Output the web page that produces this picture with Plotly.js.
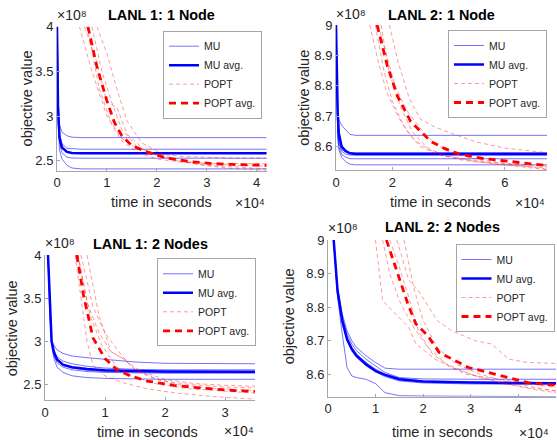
<!DOCTYPE html>
<html><head><meta charset="utf-8">
<script src="https://cdn.plot.ly/plotly-3.0.1.min.js"></script>
<style>html,body{margin:0;padding:0;background:#fff}#chart{width:557px;height:440px}</style>
</head><body><div id="chart"></div>
<script>
// ===== DATA (time in units of 1e4 s, objective value in units of 1e8) =====
const panelTitles = ['LANL 1: 1 Node', 'LANL 2: 1 Node', 'LANL 1: 2 Nodes', 'LANL 2: 2 Nodes'];
const seriesNames = ['MU', 'MU avg.', 'POPT', 'POPT avg.'];
const xTickVals = [[0, 1, 2, 3, 4], [0, 2, 4, 6], [0, 1, 2, 3], [0, 1, 2, 3, 4]];
const yTickVals = [[2.5, 3, 3.5, 4], [8.6, 8.7, 8.8, 8.9, 9], [2.5, 3, 3.5, 4], [8.6, 8.7, 8.8, 8.9, 9]];
const yTickText = [['2.5', '3', '3.5', '4'], ['8.6', '8.7', '8.8', '8.9', '9'], ['2.5', '3', '3.5', '4'], ['8.6', '8.7', '8.8', '8.9', '9']];
const xRanges = [[0, 4.2], [0, 7.5], [0, 3.5], [0, 4.8]];
const yRanges = [[2.39, 4.0], [8.523, 9.0], [2.32, 4.0], [8.533, 9.0]];
const yMultiplier = '×10⁸';
const xMultiplier = '×10⁴';

// --- LANL 1: 1 Node ---
const tl_mu_t = [0, 0.02, 0.05, 0.1, 0.2, 0.3, 0.5, 4.2];
const tl_mu_runs = [
  [4.2, 3.2, 2.9, 2.82, 2.78, 2.765, 2.76, 2.76],
  [4.4, 3.3, 2.8, 2.69, 2.64, 2.635, 2.63, 2.63],
  [4.1, 3.1, 2.75, 2.64, 2.6, 2.592, 2.59, 2.59],
  [3.35, 2.95, 2.7, 2.59, 2.54, 2.532, 2.53, 2.53],
  [3.9, 3.0, 2.62, 2.52, 2.45, 2.42, 2.41, 2.41]
];
const tl_mu_avg = [4.0, 3.1, 2.76, 2.65, 2.6, 2.588, 2.584, 2.584];
const tl_popt_t = [
  [0.45, 0.7, 1.0, 1.3, 1.6, 2.0, 2.5, 3.0, 3.5, 4.2],
  [0.55, 0.8, 1.0, 1.2, 1.4, 1.8, 2.4, 3.0, 3.6, 4.2],
  [0.7, 0.9, 1.1, 1.3, 1.6, 2.0, 2.5, 3.0, 3.6, 4.2],
  [0.8, 1.0, 1.2, 1.4, 1.7, 2.2, 2.8, 3.4, 4.2],
  [0.6, 0.85, 1.1, 1.3, 1.6, 2.0, 2.6, 3.2, 4.2]
];
const tl_popt_runs = [
  [4.0, 3.5, 3.0, 2.75, 2.64, 2.58, 2.55, 2.54, 2.53, 2.53],
  [4.0, 3.6, 3.15, 3.1, 2.8, 2.6, 2.5, 2.47, 2.45, 2.44],
  [4.0, 3.5, 3.15, 2.85, 2.66, 2.56, 2.49, 2.45, 2.43, 2.41],
  [4.0, 3.7, 3.3, 2.95, 2.7, 2.55, 2.46, 2.42, 2.39],
  [4.0, 3.3, 2.9, 2.72, 2.6, 2.52, 2.48, 2.47, 2.47]
];
const tl_popt_avg_t = [0.62, 0.8, 1.0, 1.15, 1.3, 1.5, 1.8, 2.2, 2.7, 3.1, 3.5, 4.2];
const tl_popt_avg = [4.0, 3.55, 3.17, 2.93, 2.78, 2.67, 2.6, 2.53, 2.49, 2.47, 2.46, 2.45];

// --- LANL 2: 1 Node ---
const tr_mu_t = [0, 0.03, 0.06, 0.1, 0.2, 0.35, 0.5, 0.7, 7.5];
const tr_mu_runs = [
  [9.0, 8.8, 8.72, 8.69, 8.67, 8.655, 8.64, 8.637, 8.637],
  [9.0, 8.78, 8.68, 8.62, 8.59, 8.583, 8.58, 8.58, 8.58],
  [9.0, 8.76, 8.67, 8.61, 8.585, 8.575, 8.572, 8.572, 8.572],
  [9.0, 8.72, 8.64, 8.6, 8.575, 8.565, 8.56, 8.56, 8.56],
  [9.0, 8.72, 8.63, 8.59, 8.565, 8.55, 8.542, 8.54, 8.54]
];
const tr_mu_avg = [9.0, 8.75, 8.71, 8.645, 8.6, 8.585, 8.578, 8.576, 8.576];
const tr_popt_t = [
  [1.9, 2.2, 2.6, 3.0, 3.5, 4.2, 5.0, 6.0, 7.5],
  [1.4, 1.7, 2.0, 2.4, 2.8, 3.3, 4.0, 5.0, 6.0, 7.5],
  [1.5, 1.8, 2.1, 2.5, 3.0, 3.5, 4.2, 5.2, 6.3, 7.5],
  [1.6, 1.9, 2.3, 2.7, 3.2, 3.8, 4.5, 5.5, 6.5, 7.5],
  [1.2, 1.5, 1.8, 2.2, 2.6, 3.0, 3.6, 4.4, 5.5, 7.5]
];
const tr_popt_runs = [
  [9.0, 8.88, 8.76, 8.69, 8.665, 8.64, 8.615, 8.595, 8.58],
  [9.0, 8.85, 8.75, 8.67, 8.62, 8.59, 8.57, 8.55, 8.54, 8.53],
  [9.0, 8.9, 8.8, 8.72, 8.66, 8.61, 8.575, 8.555, 8.54, 8.526],
  [9.0, 8.84, 8.73, 8.65, 8.6, 8.57, 8.555, 8.545, 8.535, 8.524],
  [9.0, 8.88, 8.78, 8.7, 8.64, 8.6, 8.575, 8.56, 8.548, 8.535]
];
const tr_popt_avg_t = [1.46, 1.82, 2.18, 2.65, 3.01, 3.37, 3.85, 4.44, 5.27, 6.23, 7.5];
const tr_popt_avg = [9.0, 8.867, 8.767, 8.683, 8.65, 8.617, 8.594, 8.574, 8.56, 8.55, 8.538];

// --- LANL 1: 2 Nodes ---
const bl_mu_t = [0.05, 0.08, 0.11, 0.15, 0.2, 0.3, 0.45, 0.7, 1.0, 1.5, 2.0, 3.5];
const bl_mu_runs = [
  [4.0, 3.35, 3.0, 2.95, 2.9, 2.86, 2.83, 2.81, 2.79, 2.76, 2.745, 2.74],
  [4.0, 3.4, 3.0, 2.9, 2.82, 2.77, 2.74, 2.71, 2.69, 2.675, 2.67, 2.67],
  [4.0, 3.45, 3.02, 2.87, 2.78, 2.72, 2.69, 2.665, 2.65, 2.645, 2.64, 2.64],
  [4.0, 3.38, 2.98, 2.84, 2.75, 2.7, 2.67, 2.65, 2.64, 2.635, 2.63, 2.63],
  [4.0, 3.3, 2.95, 2.8, 2.7, 2.64, 2.6, 2.58, 2.57, 2.565, 2.56, 2.56]
];
const bl_mu_avg = [4.0, 3.4, 3.0, 2.87, 2.79, 2.73, 2.7, 2.68, 2.665, 2.655, 2.65, 2.648];
const bl_popt_t = [
  [0.5, 0.6, 0.7, 0.8, 1.0, 1.3, 1.7, 2.2, 2.8, 3.5],
  [0.55, 0.7, 0.9, 1.1, 1.3, 1.6, 2.0, 2.5, 3.0, 3.5],
  [0.6, 0.8, 1.0, 1.1, 1.3, 1.5, 1.9, 2.4, 3.0, 3.5],
  [0.7, 0.9, 1.1, 1.3, 1.5, 1.8, 2.2, 2.7, 3.2, 3.5],
  [0.55, 0.75, 0.95, 1.2, 1.5, 1.9, 2.4, 3.0, 3.5]
];
const bl_popt_runs = [
  [4.0, 3.5, 3.0, 2.72, 2.6, 2.52, 2.45, 2.4, 2.36, 2.33],
  [4.0, 3.45, 3.1, 2.88, 2.8, 2.65, 2.56, 2.51, 2.49, 2.48],
  [4.0, 3.4, 3.1, 3.0, 2.82, 2.66, 2.55, 2.5, 2.47, 2.46],
  [4.0, 3.3, 2.88, 2.8, 2.68, 2.58, 2.5, 2.46, 2.44, 2.43],
  [4.0, 3.3, 2.95, 2.7, 2.58, 2.5, 2.45, 2.42, 2.4]
];
const bl_popt_avg_t = [0.53, 0.64, 0.8, 1.0, 1.2, 1.42, 1.7, 2.14, 2.58, 3.14, 3.5];
const bl_popt_avg = [4.0, 3.54, 3.04, 2.8, 2.67, 2.6, 2.54, 2.49, 2.46, 2.43, 2.42];

// --- LANL 2: 2 Nodes ---
const br_mu_t = [0.12, 0.2, 0.3, 0.4, 0.5, 0.6, 0.8, 1.0, 1.2, 1.5, 2.0, 3.0, 4.8];
const br_mu_runs = [
  [9.0, 8.86, 8.78, 8.73, 8.7, 8.68, 8.655, 8.635, 8.618, 8.615, 8.615, 8.615, 8.615],
  [9.0, 8.85, 8.77, 8.72, 8.69, 8.67, 8.645, 8.625, 8.605, 8.59, 8.586, 8.585, 8.585],
  [9.0, 8.85, 8.765, 8.71, 8.68, 8.66, 8.635, 8.615, 8.6, 8.588, 8.58, 8.577, 8.575],
  [9.0, 8.84, 8.75, 8.7, 8.67, 8.65, 8.625, 8.607, 8.593, 8.58, 8.574, 8.571, 8.57],
  [9.0, 8.83, 8.72, 8.62, 8.595, 8.59, 8.585, 8.572, 8.545, 8.536, 8.535, 8.534, 8.533]
];
const br_mu_avg = [9.0, 8.85, 8.76, 8.705, 8.675, 8.655, 8.63, 8.61, 8.598, 8.585, 8.578, 8.575, 8.573];
const br_popt_t = [
  [1.45, 1.7, 1.9, 2.3, 2.6, 3.1, 3.45, 3.8, 4.2, 4.8],
  [1.0, 1.15, 1.35, 1.7, 1.85, 2.25, 2.9, 3.8, 4.8],
  [1.15, 1.3, 1.5, 1.8, 2.1, 2.5, 3.0, 3.6, 4.2, 4.8],
  [1.3, 1.5, 1.7, 1.9, 2.2, 2.6, 3.2, 3.8, 4.4, 4.8],
  [1.6, 1.8, 2.0, 2.3, 2.7, 3.2, 3.7, 4.2, 4.8]
];
const br_popt_runs = [
  [9.0, 8.88, 8.85, 8.76, 8.73, 8.7, 8.69, 8.645, 8.635, 8.632],
  [9.0, 8.82, 8.79, 8.74, 8.69, 8.645, 8.6, 8.58, 8.56],
  [9.0, 8.9, 8.82, 8.74, 8.68, 8.63, 8.6, 8.575, 8.56, 8.55],
  [9.0, 8.92, 8.83, 8.73, 8.66, 8.62, 8.59, 8.57, 8.553, 8.545],
  [9.0, 8.86, 8.76, 8.68, 8.63, 8.6, 8.58, 8.565, 8.55]
];
const br_popt_avg_t = [1.23, 1.37, 1.68, 1.85, 2.1, 2.34, 2.69, 2.96, 3.38, 3.8, 4.21, 4.8];
const br_popt_avg = [9.0, 8.94, 8.81, 8.75, 8.715, 8.665, 8.64, 8.62, 8.605, 8.59, 8.575, 8.567];

// ===== Build =====
const W = 557, H = 440;
const panels = [
  {muT: tl_mu_t, muRuns: tl_mu_runs, muAvg: tl_mu_avg, pT: tl_popt_t, pRuns: tl_popt_runs, paT: tl_popt_avg_t, pAvg: tl_popt_avg},
  {muT: tr_mu_t, muRuns: tr_mu_runs, muAvg: tr_mu_avg, pT: tr_popt_t, pRuns: tr_popt_runs, paT: tr_popt_avg_t, pAvg: tr_popt_avg},
  {muT: bl_mu_t, muRuns: bl_mu_runs, muAvg: bl_mu_avg, pT: bl_popt_t, pRuns: bl_popt_runs, paT: bl_popt_avg_t, pAvg: bl_popt_avg},
  {muT: br_mu_t, muRuns: br_mu_runs, muAvg: br_mu_avg, pT: br_popt_t, pRuns: br_popt_runs, paT: br_popt_avg_t, pAvg: br_popt_avg}
];
// pixel boxes of each axes: [left, right, top, bottom]
const boxes = [[57, 266.7, 26.7, 170.7], [336, 547, 25, 170], [45, 255, 255, 400], [328, 556, 240, 396.7]];
const legendPos = [[262, 30.7], [547, 30], [256, 258.3], [554.5, 244]];
const titlePos = [[161, 15], [441, 15], [150, 244], [442, 227]];
const xlabPos = [[161, 202], [440, 202], [147, 431.5], [442, 432]];
const ylabPos = [[26.7, 98.7], [303.7, 98], [12.3, 328], [289.3, 316]];
const x8Pos = [[57, 25], [336, 24], [45, 253], [328, 238]];
const x4Pos = [[267, 203], [547, 203], [256, 431], [517, 433]];

const FONT = 'Liberation Sans, Arial, Helvetica, sans-serif';
const TXT = '#262626';
const AX = '#a6a6a6';
const px = v => v / W, py = v => 1 - v / H;

const data = [];
const layout = {
  width: W, height: H, margin: {l: 0, r: 0, t: 0, b: 0},
  paper_bgcolor: '#fff', plot_bgcolor: '#fff',
  font: {family: FONT, color: TXT, size: 13},
  annotations: [], showlegend: true
};

panels.forEach((P, i) => {
  const n = i === 0 ? '' : String(i + 1);
  const xa = 'x' + n, ya = 'y' + n;
  const lg = i === 0 ? 'legend' : 'legend' + (i + 1);
  P.muRuns.forEach((r, k) => data.push({
    type: 'scatter', mode: 'lines', x: P.muT, y: r, xaxis: xa, yaxis: ya, legend: lg,
    name: seriesNames[0], showlegend: k === 0, hoverinfo: 'skip',
    line: {color: 'rgba(0,0,255,0.55)', width: 1}
  }));
  data.push({
    type: 'scatter', mode: 'lines', x: P.muT, y: P.muAvg, xaxis: xa, yaxis: ya, legend: lg,
    name: seriesNames[1], hoverinfo: 'skip', line: {color: '#0000ff', width: 2.5}
  });
  P.pRuns.forEach((r, k) => data.push({
    type: 'scatter', mode: 'lines', x: P.pT[k], y: r, xaxis: xa, yaxis: ya, legend: lg,
    name: seriesNames[2], showlegend: k === 0, hoverinfo: 'skip',
    line: {color: 'rgba(255,0,0,0.4)', width: 1, dash: '4px,3px'}
  }));
  data.push({
    type: 'scatter', mode: 'lines', x: P.paT, y: P.pAvg, xaxis: xa, yaxis: ya, legend: lg,
    name: seriesNames[3], hoverinfo: 'skip', line: {color: '#ff0000', width: 2.8, dash: '7px,5px'}
  });

  const b = boxes[i];
  const axCommon = {
    showgrid: false, zeroline: false, showline: true, linecolor: AX, linewidth: 1,
    ticks: 'inside', ticklen: 3, tickcolor: AX, tickwidth: 1,
    tickfont: {family: FONT, size: 13, color: TXT}, fixedrange: true, mirror: false
  };
  layout['xaxis' + n] = Object.assign({}, axCommon, {
    domain: [px(b[0]), px(b[1])], range: xRanges[i], anchor: ya,
    tickmode: 'array', tickvals: xTickVals[i], ticktext: xTickVals[i].map(String)
  });
  layout['yaxis' + n] = Object.assign({}, axCommon, {
    domain: [py(b[3]), py(b[2])], range: yRanges[i], anchor: xa,
    tickmode: 'array', tickvals: yTickVals[i], ticktext: yTickText[i]
  });
  layout[lg] = {
    x: px(legendPos[i][0]), y: py(legendPos[i][1]), xanchor: 'right', yanchor: 'top',
    bgcolor: '#ffffff', bordercolor: AX, borderwidth: 1,
    font: {family: FONT, size: 10.5, color: TXT}, itemwidth: 30, tracegroupgap: 0
  };
  const A = layout.annotations;
  A.push({xref: 'paper', yref: 'paper', x: px(titlePos[i][0]), y: py(titlePos[i][1]),
    xanchor: 'center', yanchor: 'middle', showarrow: false,
    text: '<b>' + panelTitles[i] + '</b>', font: {family: FONT, size: 14.4, color: '#000'}});
  A.push({xref: 'paper', yref: 'paper', x: px(xlabPos[i][0]), y: py(xlabPos[i][1]),
    xanchor: 'center', yanchor: 'middle', showarrow: false,
    text: 'time in seconds', font: {family: FONT, size: 14.5, color: TXT}});
  A.push({xref: 'paper', yref: 'paper', x: px(ylabPos[i][0]), y: py(ylabPos[i][1]),
    xanchor: 'center', yanchor: 'middle', showarrow: false, textangle: -90,
    text: 'objective value', font: {family: FONT, size: 14.5, color: TXT}});
  A.push({xref: 'paper', yref: 'paper', x: px(x8Pos[i][0]), y: py(x8Pos[i][1]),
    xanchor: 'left', yanchor: 'bottom', showarrow: false, xshift: -2,
    text: yMultiplier, font: {family: FONT, size: 14, color: TXT}});
  A.push({xref: 'paper', yref: 'paper', x: px(x4Pos[i][0]), y: py(x4Pos[i][1]),
    xanchor: i === 3 ? 'left' : 'right', yanchor: 'middle', showarrow: false,
    text: xMultiplier, font: {family: FONT, size: 14, color: TXT}});
});

Plotly.newPlot('chart', data, layout, {staticPlot: true, displayModeBar: false});
</script></body></html>
